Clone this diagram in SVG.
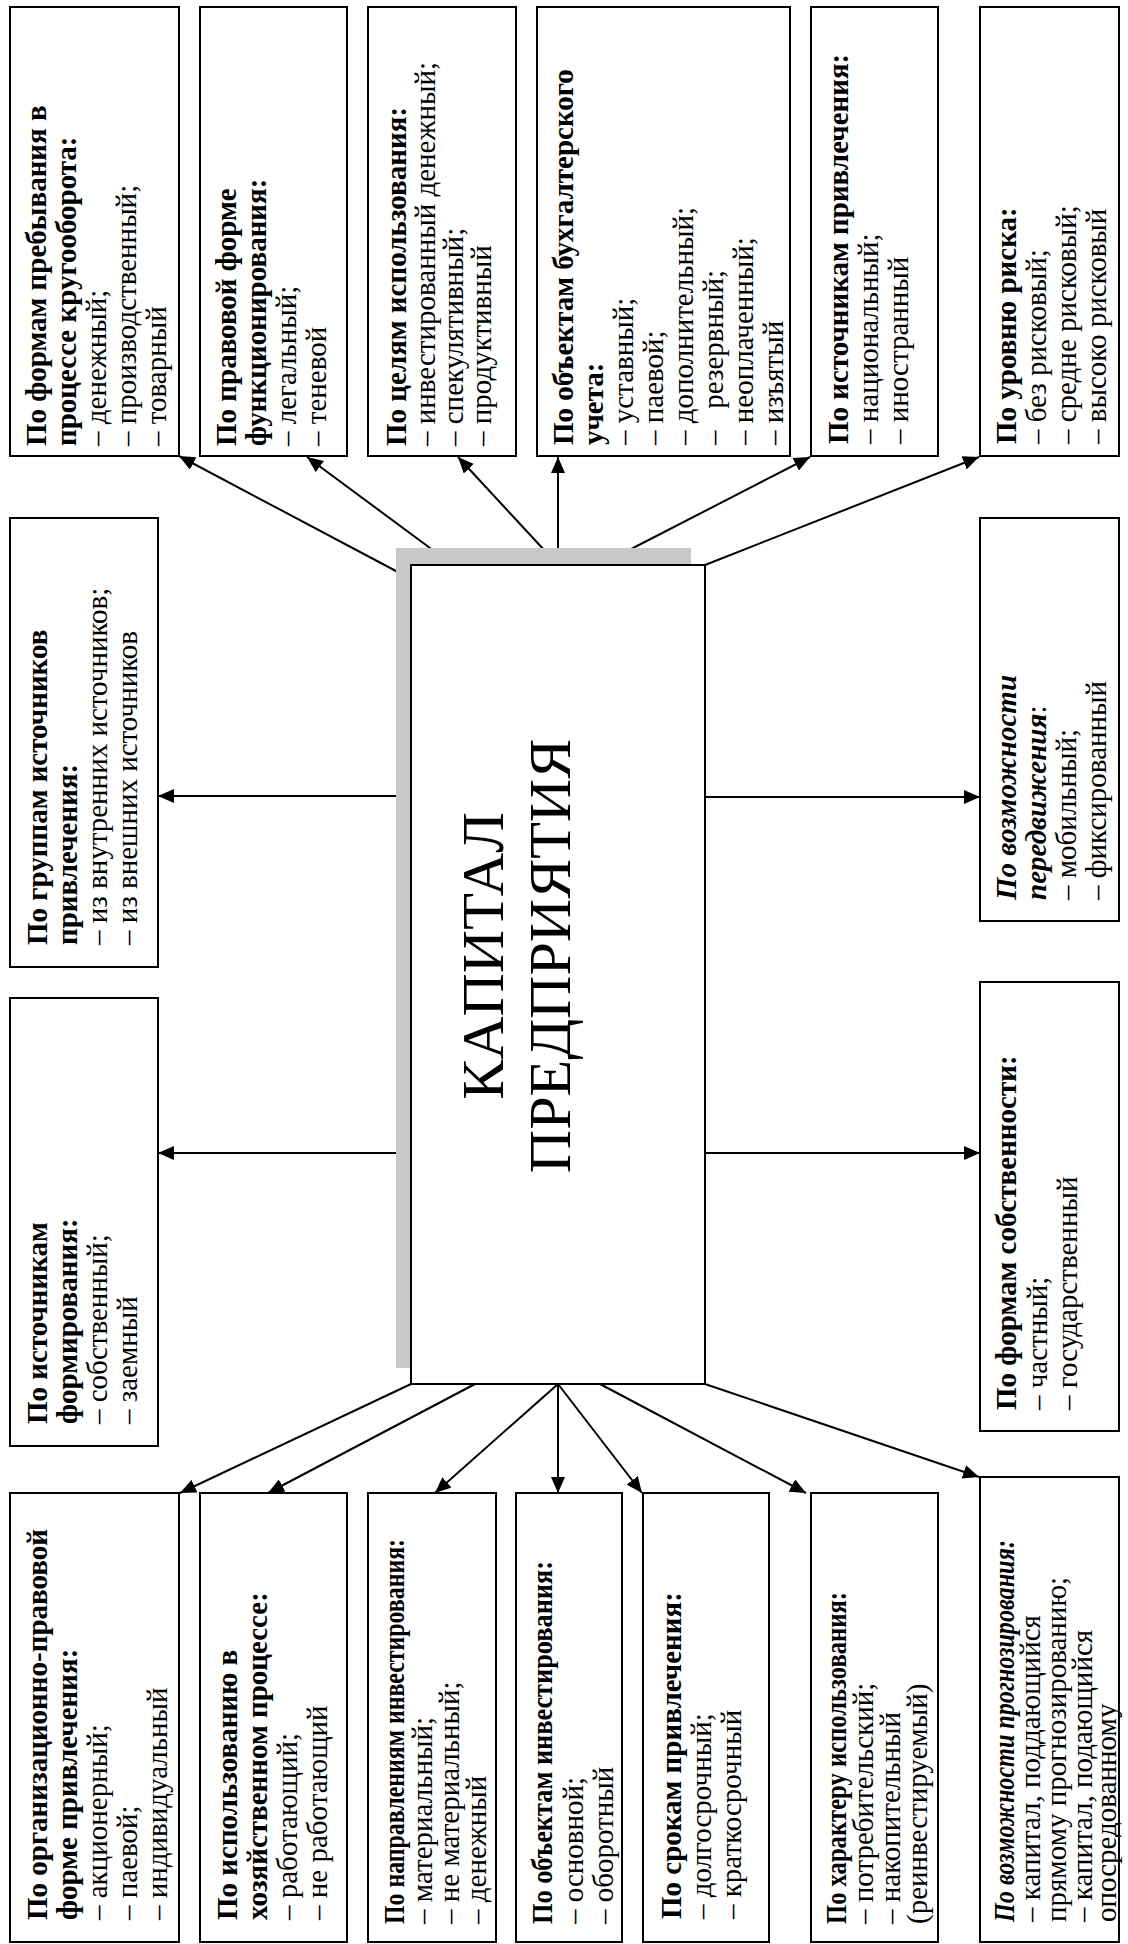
<svg xmlns="http://www.w3.org/2000/svg" width="1128" height="1944" viewBox="0 0 1128 1944">
<style>
  .box { fill: #ffffff; stroke: #000000; stroke-width: 2; }
  .conn { stroke: #000000; stroke-width: 2; fill: none; marker-end: url(#arr); }
  text { font-family: "Liberation Serif", "Times New Roman", serif; font-size: 29px; fill: #000000; }
  .b { font-weight: bold; }
  .bi { font-weight: bold; font-style: italic; }
  .big { font-size: 60px; text-anchor: middle; }
</style>
<defs>
  <marker id="arr" markerUnits="userSpaceOnUse" markerWidth="16" markerHeight="14" refX="16" refY="7" orient="auto">
    <path d="M0,0 L16,7 L0,14 z" fill="#000000"/>
  </marker>
</defs>
<rect width="1128" height="1944" fill="#ffffff"/>

<g id="connectors">
  <line class="conn" x1="411" y1="579" x2="179" y2="456"/>
  <line class="conn" x1="453" y1="565" x2="307" y2="457"/>
  <line class="conn" x1="558" y1="565" x2="458" y2="457"/>
  <line class="conn" x1="558" y1="565" x2="558" y2="457"/>
  <line class="conn" x1="600" y1="565" x2="810" y2="457"/>
  <line class="conn" x1="705" y1="565" x2="979" y2="457"/>
  <line class="conn" x1="411" y1="796" x2="158" y2="796"/>
  <line class="conn" x1="411" y1="1153" x2="158" y2="1153"/>
  <line class="conn" x1="705" y1="797" x2="980" y2="797"/>
  <line class="conn" x1="705" y1="1153" x2="980" y2="1153"/>
  <line class="conn" x1="411" y1="1384" x2="180" y2="1493"/>
  <line class="conn" x1="475" y1="1384" x2="268" y2="1493"/>
  <line class="conn" x1="558" y1="1384" x2="435" y2="1493"/>
  <line class="conn" x1="558" y1="1384" x2="558" y2="1493"/>
  <line class="conn" x1="558" y1="1384" x2="642" y2="1493"/>
  <line class="conn" x1="600" y1="1384" x2="806" y2="1493"/>
  <line class="conn" x1="705" y1="1384" x2="979" y2="1477"/>
</g>

<g id="center">
  <rect x="396" y="548" width="295" height="820" fill="#c8c8ca"/>
  <rect class="box" x="411" y="565" width="294" height="819"/>
  <text class="big" x="503" y="956" transform="rotate(-90 503 956)">КАПИТАЛ</text>
  <text class="big" x="570" y="956" transform="rotate(-90 570 956)">ПРЕДПРИЯТИЯ</text>
</g>

<!-- Top row -->
<g id="t1">
  <rect class="box" x="10" y="7" width="169" height="449"/>
  <g transform="translate(10 456) rotate(-90)">
    <text x="10" y="36" class="b">По формам пребывания в</text>
    <text x="10" y="66" class="b">процессе кругооборота:</text>
    <text x="10" y="96">– денежный;</text>
    <text x="10" y="126">– производственный;</text>
    <text x="10" y="156">– товарный</text>
  </g>
</g>
<g id="t2">
  <rect class="box" x="200" y="7" width="147" height="449"/>
  <g transform="translate(200 456) rotate(-90)">
    <text x="10" y="36" class="b">По правовой форме</text>
    <text x="10" y="66" class="b">функционирования:</text>
    <text x="10" y="96">– легальный;</text>
    <text x="10" y="126">– теневой</text>
  </g>
</g>
<g id="t3">
  <rect class="box" x="368" y="7" width="148" height="449"/>
  <g transform="translate(368 456) rotate(-90)">
    <text x="10" y="38" class="b">По целям использования:</text>
    <text x="10" y="67">– инвестированный денежный;</text>
    <text x="10" y="95">– спекулятивный;</text>
    <text x="10" y="123">– продуктивный</text>
  </g>
</g>
<g id="t4">
  <rect class="box" x="537" y="7" width="253" height="449"/>
  <g transform="translate(537 456) rotate(-90)">
    <text x="11" y="36" class="b">По объектам бухгалтерского</text>
    <text x="11" y="66" class="b">учета:</text>
    <text x="11" y="96">– уставный;</text>
    <text x="11" y="126">– паевой;</text>
    <text x="11" y="156">– дополнительный;</text>
    <text x="11" y="186">–&#160;&#160; резервный;</text>
    <text x="11" y="216">– неоплаченный;</text>
    <text x="11" y="246">– изъятый</text>
  </g>
</g>
<g id="t5">
  <rect class="box" x="811" y="7" width="127" height="449"/>
  <g transform="translate(811 456) rotate(-90)">
    <text x="12" y="37" class="b">По источникам привлечения:</text>
    <text x="12" y="67">– национальный;</text>
    <text x="12" y="97">– иностранный</text>
  </g>
</g>
<g id="t6">
  <rect class="box" x="980" y="7" width="139" height="449"/>
  <g transform="translate(980 456) rotate(-90)">
    <text x="12" y="36" class="b">По уровню риска:</text>
    <text x="12" y="66">– без рисковый;</text>
    <text x="12" y="96">– средне рисковый;</text>
    <text x="12" y="126">– высоко рисковый</text>
  </g>
</g>

<!-- Middle row -->
<g id="ml1">
  <rect class="box" x="10" y="518" width="148" height="449"/>
  <g transform="translate(10 967) rotate(-90)">
    <text x="22" y="37" class="b">По группам источников</text>
    <text x="22" y="67" class="b">привлечения:</text>
    <text x="22" y="97">– из внутренних источников;</text>
    <text x="22" y="127">– из внешних источников</text>
  </g>
</g>
<g id="ml2">
  <rect class="box" x="10" y="998" width="148" height="448"/>
  <g transform="translate(10 1446) rotate(-90)">
    <text x="22" y="37" class="b">По источникам</text>
    <text x="22" y="67" class="b">формирования:</text>
    <text x="22" y="97">– собственный;</text>
    <text x="22" y="127">– заемный</text>
  </g>
</g>
<g id="mr1">
  <rect class="box" x="980" y="518" width="139" height="403"/>
  <g transform="translate(980 921) rotate(-90)">
    <text x="21" y="36" class="bi">По возможности</text>
    <text x="21" y="66"><tspan class="bi">передвижения</tspan>:</text>
    <text x="21" y="96">– мобильный;</text>
    <text x="21" y="126">– фиксированный</text>
  </g>
</g>
<g id="mr2">
  <rect class="box" x="980" y="982" width="139" height="449"/>
  <g transform="translate(980 1431) rotate(-90)">
    <text x="21" y="36" class="b">По формам собственности:</text>
    <text x="21" y="67">– частный;</text>
    <text x="21" y="97">– государственный</text>
  </g>
</g>

<!-- Bottom row -->
<g id="b1">
  <rect class="box" x="10" y="1493" width="169" height="449"/>
  <g transform="translate(10 1942) rotate(-90)">
    <text x="22" y="37" class="b">По организационно-правовой</text>
    <text x="22" y="67" class="b">форме привлечения:</text>
    <text x="22" y="97">– акционерный;</text>
    <text x="22" y="127">– паевой;</text>
    <text x="22" y="157">– индивидуальный</text>
  </g>
</g>
<g id="b2">
  <rect class="box" x="200" y="1493" width="147" height="449"/>
  <g transform="translate(200 1942) rotate(-90)">
    <text x="22" y="37" class="b">По использованию в</text>
    <text x="22" y="67" class="b">хозяйственном процессе:</text>
    <text x="22" y="97">– работающий;</text>
    <text x="22" y="127">– не работающий</text>
  </g>
</g>
<g id="b3">
  <rect class="box" x="368" y="1493" width="128" height="449"/>
  <g transform="translate(368 1942) rotate(-90)">
    <text x="18" y="36" class="b" textLength="385" lengthAdjust="spacingAndGlyphs">По направлениям инвестирования:</text>
    <text x="18" y="64">– материальный;</text>
    <text x="18" y="91">– не материальный;</text>
    <text x="18" y="118">– денежный</text>
  </g>
</g>
<g id="b4">
  <rect class="box" x="516" y="1493" width="106" height="449"/>
  <g transform="translate(516 1942) rotate(-90)">
    <text x="18" y="36" class="b" textLength="363" lengthAdjust="spacingAndGlyphs">По объектам инвестирования:</text>
    <text x="18" y="67">– основной;</text>
    <text x="18" y="97">– оборотный</text>
  </g>
</g>
<g id="b5">
  <rect class="box" x="643" y="1493" width="126" height="449"/>
  <g transform="translate(643 1942) rotate(-90)">
    <text x="23" y="38" class="b">По срокам привлечения:</text>
    <text x="23" y="68">– долгосрочный;</text>
    <text x="23" y="98">– краткосрочный</text>
  </g>
</g>
<g id="b6">
  <rect class="box" x="811" y="1493" width="127" height="449"/>
  <g transform="translate(811 1942) rotate(-90)">
    <text x="18" y="35" class="b" textLength="332" lengthAdjust="spacingAndGlyphs">По характеру использования:</text>
    <text x="18" y="62">– потребительский;</text>
    <text x="18" y="89">– накопительный</text>
    <text x="18" y="116">(реинвестируемый)</text>
  </g>
</g>
<g id="b7">
  <rect class="box" x="980" y="1477" width="139" height="465"/>
  <g transform="translate(980 1942) rotate(-90)">
    <text x="20" y="34" class="bi" textLength="382" lengthAdjust="spacingAndGlyphs">По возможности прогнозирования:</text>
    <text x="20" y="60">– капитал, поддающийся</text>
    <text x="20" y="86">прямому прогнозированию;</text>
    <text x="20" y="112">– капитал, подающийся</text>
    <text x="20" y="136">опосредованному</text>
  </g>
</g>
</svg>
